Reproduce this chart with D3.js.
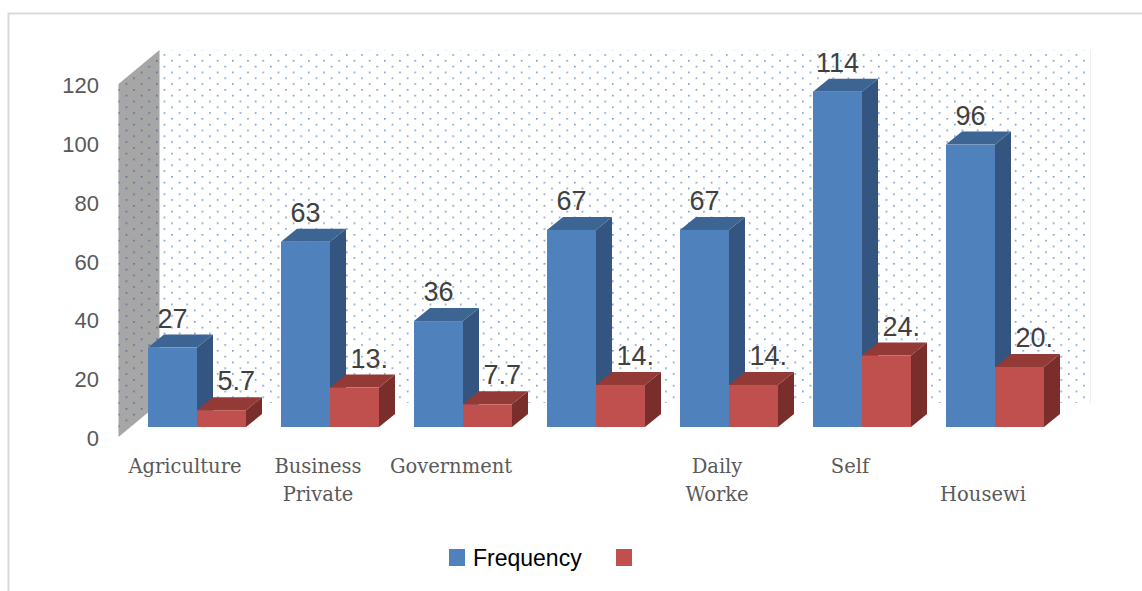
<!DOCTYPE html>
<html>
<head>
<meta charset="utf-8">
<script src="https://cdn.jsdelivr.net/npm/d3@7"></script>
<style>
  body { margin: 0; background: #fff; }
  svg { display: block; }
</style>
</head>
<body>
<svg width="1142" height="591"></svg>
<script>
// occupation categories ("|" = line break in the axis label)
let categories = ['Agriculture', 'Business|Private', 'Government', '', 'Daily|Worke', 'Self', '|Housewi']
let frequency = [27, 63, 36, 67, 67, 114, 96]
let percent = [5.7, 13.4, 7.7, 14.3, 14.3, 24.3, 20.4]
let seriesNames = ['Frequency', '']
let yTicks = [0, 20, 40, 60, 80, 100, 120]

let colors = [
    { front: '#4f81bd', top: '#3c6593', side: '#33557f' },
    { front: '#c0504d', top: '#933a37', side: '#7a2e2c' }
]

let svg = d3.select('svg')

// outer chart frame
svg.append('rect')
    .attr('x', 8.5).attr('y', 13.5)
    .attr('width', 1200).attr('height', 700)
    .attr('fill', '#fff')
    .attr('stroke', '#d9d9d9')
    .attr('stroke-width', 2)

// dotted fill used on the walls
let defs = svg.append('defs')
let pat = defs.append('pattern')
    .attr('id', 'dots')
    .attr('patternUnits', 'userSpaceOnUse')
    .attr('width', 15.2).attr('height', 11.6)
    .attr('x', 4).attr('y', 2)
pat.append('rect').attr('x', 0).attr('y', 0).attr('width', 1.6).attr('height', 1.6).attr('fill', '#6f97cf')
pat.append('rect').attr('x', 7.6).attr('y', 5.8).attr('width', 1.6).attr('height', 1.6).attr('fill', '#6f97cf')

let pat2 = defs.append('pattern')
    .attr('id', 'dots2')
    .attr('patternUnits', 'userSpaceOnUse')
    .attr('width', 15.2).attr('height', 11.6)
    .attr('x', 4).attr('y', 2)
pat2.append('rect').attr('x', 0).attr('y', 0).attr('width', 1.6).attr('height', 1.6).attr('fill', '#55709a')
pat2.append('rect').attr('x', 7.6).attr('y', 5.8).attr('width', 1.6).attr('height', 1.6).attr('fill', '#55709a')

// front plane scales
let x = d3.scaleBand()
    .domain(d3.range(categories.length))
    .range([118.5, 1049.5])

let xs = d3.scaleBand()
    .domain([0, 1])
    .range([17.5, x.bandwidth() - 17.5])

let y = d3.scaleLinear()
    .domain([0, 120])
    .range([437, 84])

// depth offsets (toward the back)
let wallDx = 41, wallDy = -34
let barDx = 12, barDy = -10
let depDx = 16, depDy = -13

let x0 = x.range()[0], x1 = x.range()[1]
let yb = y(0), yt = y(120)

// back wall
svg.append('rect')
    .attr('x', x0 + wallDx).attr('y', yt + wallDy)
    .attr('width', x1 - x0).attr('height', yb - yt)
    .attr('fill', 'url(#dots)')
svg.append('line')
    .attr('x1', x1 + wallDx).attr('x2', x1 + wallDx)
    .attr('y1', yt + wallDy).attr('y2', yb + wallDy)
    .attr('stroke', '#eeeeee')

// side wall
let side = [[x0, yb], [x0, yt], [x0 + wallDx, yt + wallDy], [x0 + wallDx, yb + wallDy]]
svg.append('polygon')
    .attr('points', side.map(p => p.join(',')).join(' '))
    .attr('fill', '#a6a6a6')
svg.append('polygon')
    .attr('points', side.map(p => p.join(',')).join(' '))
    .attr('fill', 'url(#dots2)')

// y tick labels
svg.append('g')
    .selectAll('text')
    .data(yTicks)
    .enter()
    .append('text')
    .attr('x', 99)
    .attr('y', d => y(d) + 9)
    .attr('text-anchor', 'end')
    .attr('font-family', 'Liberation Sans, Arial, sans-serif')
    .attr('font-size', 22)
    .attr('fill', '#595959')
    .text(d => d)

// bars
let bars = []
categories.forEach((c, i) => {
    bars.push({ i: i, s: 0, v: frequency[i] })
    bars.push({ i: i, s: 1, v: percent[i] })
})

let poly = pts => pts.map(p => p.join(',')).join(' ')

let barG = svg.append('g')
    .selectAll('g.bar')
    .data(bars)
    .enter()
    .append('g')
    .attr('class', 'bar')

barG.each(function (d) {
    let g = d3.select(this)
    let left = x(d.i) + xs(d.s) + barDx
    let right = left + xs.bandwidth()
    let bot = y(0) + barDy
    let top = y(d.v) + barDy
    let c = colors[d.s]
    g.append('polygon')
        .attr('points', poly([[right, bot], [right, top], [right + depDx, top + depDy], [right + depDx, bot + depDy]]))
        .attr('fill', c.side)
    g.append('polygon')
        .attr('points', poly([[left, top], [right, top], [right + depDx, top + depDy], [left + depDx, top + depDy]]))
        .attr('fill', c.top)
    g.append('rect')
        .attr('x', left).attr('y', top)
        .attr('width', right - left).attr('height', bot - top)
        .attr('fill', c.front)
})

// value labels (red ones are clipped to 3 characters like the original)
svg.append('g')
    .selectAll('text')
    .data(bars)
    .enter()
    .append('text')
    .attr('x', d => {
        let cx = x(d.i) + xs(d.s) + barDx + xs.bandwidth() / 2
        return d.s == 0 ? cx : cx - 4
    })
    .attr('y', d => y(d.v) + barDy + depDy - 7)
    .attr('text-anchor', d => d.s == 0 ? 'middle' : 'start')
    .attr('font-family', 'Liberation Sans, Arial, sans-serif')
    .attr('font-size', 27)
    .attr('fill', '#404040')
    .text(d => d.s == 0 ? d.v : String(d.v).slice(0, 3))

// category labels
let catG = svg.append('g')
    .selectAll('text')
    .data(categories)
    .enter()
    .append('text')
    .attr('text-anchor', 'middle')
    .attr('font-family', 'DejaVu Serif, serif')
    .attr('font-size', 19.5)
    .attr('fill', '#595959')

catG.each(function (d, i) {
    let lines = d.split('|')
    let t = d3.select(this)
    lines.forEach((l, k) => {
        t.append('tspan')
            .attr('x', x(i) + x.bandwidth() / 2)
            .attr('y', 473 + k * 28)
            .text(l)
    })
})

// legend
let legend = svg.append('g').attr('class', 'legend')
let legX = [449, 616]
legend.selectAll('rect')
    .data(seriesNames)
    .enter()
    .append('rect')
    .attr('x', (d, i) => legX[i])
    .attr('y', 549)
    .attr('width', 16)
    .attr('height', 17)
    .attr('fill', (d, i) => colors[i].front)

legend.selectAll('text')
    .data(seriesNames)
    .enter()
    .append('text')
    .attr('x', (d, i) => legX[i] + 24)
    .attr('y', 566)
    .attr('font-family', 'Liberation Sans, Arial, sans-serif')
    .attr('font-size', 23)
    .attr('fill', '#000')
    .text(d => d)
</script>
</body>
</html>
